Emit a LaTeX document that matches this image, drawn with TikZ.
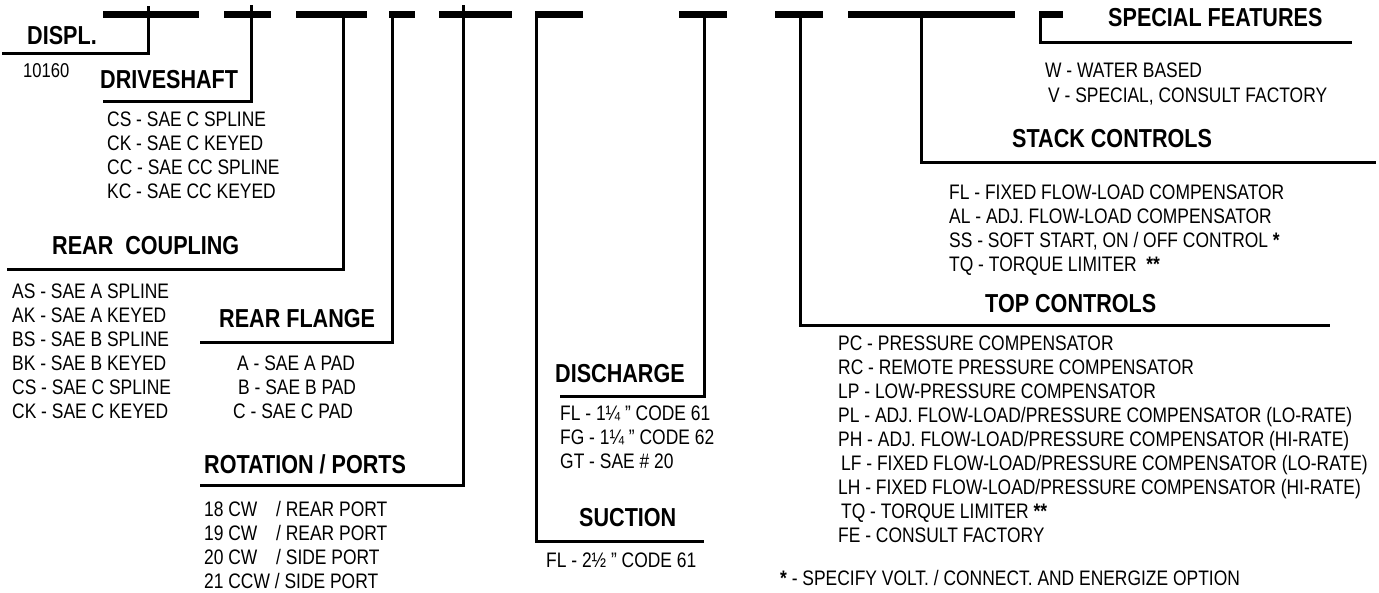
\documentclass[tikz,border=0pt]{standalone}
\usepackage{fontspec}
\setmainfont{Liberation Sans}[FakeStretch=0.83]

\begin{document}
\begin{tikzpicture}[x=1pt, y=-1pt,
    bar/.style={line width=7pt},
    lead/.style={line width=3pt, line join=miter},
    hd/.style={anchor=west, inner sep=0pt, font=\bfseries\fontsize{26}{26}\selectfont, text height=18.6pt, text depth=0pt},
    opt/.style={anchor=west, inner sep=0pt, font=\fontsize{21}{21}\selectfont, text height=15pt, text depth=0pt}]
	\useasboundingbox (0,0) rectangle (1379,592);
	% code bar
	\foreach \a/\b in {103/199, 224/271, 296/367, 389/415, 439/512, 535/583, 679/727, 775/823, 848/1015, 1039/1063}
		\draw[bar] (\a,14) -- (\b,14);
	% leaders
	\draw[lead] (148,6) -- (148,53) -- (2,53);
	\draw[lead] (251,5) -- (251,101) -- (103,101);
	\draw[lead] (343,14) -- (343,269) -- (7,269);
	\draw[lead] (392,12) -- (392,342) -- (200,342);
	\draw[lead] (463,5) -- (463,485) -- (200,485);
	\draw[lead] (536,12) -- (536,541) -- (704,541);
	\draw[lead] (704,14) -- (704,396) -- (560,396);
	\draw[lead] (800,14) -- (800,325) -- (1330,325);
	\draw[lead] (921,14) -- (921,162) -- (1376,162);
	\draw[lead] (1040,12) -- (1040,42) -- (1352,42);
	% displacement
	\node[hd] (displ) at (27,35) {DISPL.};
	\node[opt, font=\fontsize{20}{20}\selectfont] (displ-1) at (23,70) {10160};
	% driveshaft
	\node[hd] (drive) at (100,79) {DRIVESHAFT};
	\foreach \txt [count=\i] in {CS - SAE C SPLINE, CK - SAE C KEYED, CC - SAE CC SPLINE, KC - SAE CC KEYED}
		\node[opt] (drive-\i) at (107,95+24*\i) {\txt};
	% rear coupling
	\node[hd] (coupl) at (52,245) {REAR\ \ COUPLING};
	\foreach \txt [count=\i] in {AS - SAE A SPLINE, AK - SAE A KEYED, BS - SAE B SPLINE, BK - SAE B KEYED, CS - SAE C SPLINE, CK - SAE C KEYED}
		\node[opt] (coupl-\i) at (12,267+24*\i) {\txt};
	% rear flange
	\node[hd] (flange) at (219,318) {REAR FLANGE};
	\foreach \txt [count=\i] in {{\hspace{4pt}A - SAE A PAD}, {\hspace{5pt}B - SAE B PAD}, {C - SAE C PAD}}
		\node[opt] (flange-\i) at (233,339+24*\i) {\txt};
	% rotation / ports
	\node[hd] (rot) at (204,464) {ROTATION / PORTS};
	\foreach \txt [count=\i] in {{\makebox[72pt][l]{18 CW}/ REAR PORT}, {\makebox[72pt][l]{19 CW}/ REAR PORT}, {\makebox[72pt][l]{20 CW}/ SIDE PORT}, {21 CCW / SIDE PORT}}
		\node[opt] (rot-\i) at (204,485+24*\i) {\txt};
	% discharge
	\node[hd] (dis) at (555,373) {DISCHARGE};
	\foreach \txt [count=\i] in {{FL - 1¼ ” CODE 61}, {FG - 1¼ ” CODE 62}, {GT - SAE \# 20}}
		\node[opt] (dis-\i) at (560,389+24*\i) {\txt};
	% suction
	\node[hd] (suc) at (579,517) {SUCTION};
	\node[opt] (suc-1) at (546,560) {FL - 2½ ” CODE 61};
	% top controls
	\node[hd] (top) at (985,303) {TOP CONTROLS};
	\foreach \txt [count=\i] in {{PC - PRESSURE COMPENSATOR}, {RC - REMOTE PRESSURE COMPENSATOR}, {LP - LOW-PRESSURE COMPENSATOR}, {PL - ADJ. FLOW-LOAD/PRESSURE COMPENSATOR (LO-RATE)}, {PH - ADJ. FLOW-LOAD/PRESSURE COMPENSATOR (HI-RATE)}, {\hspace{3pt}LF - FIXED FLOW-LOAD/PRESSURE COMPENSATOR (LO-RATE)}, {LH - FIXED FLOW-LOAD/PRESSURE COMPENSATOR (HI-RATE)}, {\hspace{3pt}TQ - TORQUE LIMITER \textbf{**}}, {FE - CONSULT FACTORY}}
		\node[opt] (top-\i) at (838,319+24*\i) {\txt};
	\node[opt] (note) at (780,578) {\textbf{*} - SPECIFY VOLT. / CONNECT. AND ENERGIZE OPTION};
	% stack controls
	\node[hd] (stack) at (1012,138) {STACK CONTROLS};
	\foreach \txt [count=\i] in {{FL - FIXED FLOW-LOAD COMPENSATOR}, {AL - ADJ. FLOW-LOAD COMPENSATOR}, {SS - SOFT START, ON / OFF CONTROL \textbf{*}}, {TQ - TORQUE LIMITER\ \ \textbf{**}}}
		\node[opt] (stack-\i) at (949,168+24*\i) {\txt};
	% special features
	\node[hd] (spec) at (1108,17) {SPECIAL FEATURES};
	\node[opt] (spec-1) at (1045,70) {W - WATER BASED};
	\node[opt] (spec-2) at (1048,95) {V - SPECIAL, CONSULT FACTORY};
\end{tikzpicture}
\end{document}
